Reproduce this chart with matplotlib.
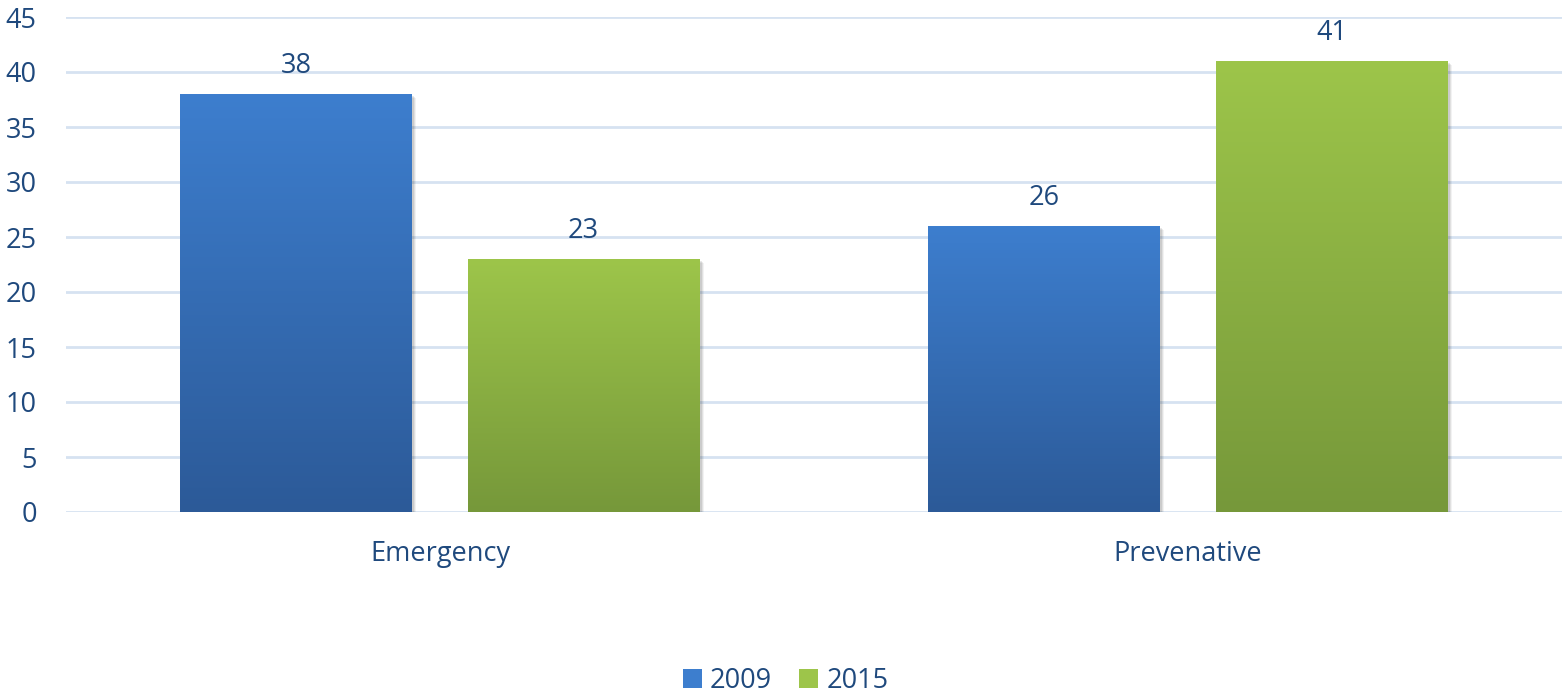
import numpy as np
import matplotlib
matplotlib.use("Agg")
import matplotlib.pyplot as plt
import matplotlib.transforms as mtransforms
from matplotlib.colors import LinearSegmentedColormap
from matplotlib.patches import Rectangle

# ── Data ────────────────────────────────────────────────────────
categories = ["Emergency", "Prevenative"]
series_names = ["2009", "2015"]
values_2009 = [38, 26]
values_2015 = [23, 41]

# ── Style ───────────────────────────────────────────────────────
text_color = "#1F497D"
grid_color = "#D6E2F1"
grads = {
    "2009": ("#2C5A98", "#3D7ECE"),   # bottom, top
    "2015": ("#76983A", "#9DC54A"),
}
fs = 19.5

plt.rcParams["font.family"] = ["Open Sans", "DejaVu Sans"]

fig = plt.figure(figsize=(15.62, 6.98), dpi=100)
ax = fig.add_axes([66 / 1562, (698 - 512) / 698, (1562 - 66) / 1562, 495 / 698])

ax.set_yticks(np.arange(0, 46, 5))
ax.set_xticks(range(len(categories)))
ax.set_xticklabels(categories)
ax.tick_params(axis="both", length=0, colors=text_color, labelsize=fs)
ax.tick_params(axis="y", pad=21)
ax.tick_params(axis="x", pad=20)
for s in ax.spines.values():
    s.set_visible(False)
ax.grid(axis="y", color=grid_color, linewidth=2)
ax.set_axisbelow(True)

bar_w = 0.31
offsets = [-0.192, 0.192]
grad = np.linspace(0, 1, 256).reshape(-1, 1)

for k, (name, vals) in enumerate(zip(series_names, [values_2009, values_2015])):
    cmap = LinearSegmentedColormap.from_list(name, grads[name])
    for i, v in enumerate(vals):
        x0 = i + offsets[k] - bar_w / 2
        # soft shadow
        for d, a in [(4, 0.05), (3, 0.07), (2, 0.09)]:
            sh = Rectangle((x0, 0), bar_w, v, facecolor="#000000", alpha=a,
                           edgecolor="none", zorder=2,
                           transform=ax.transData + mtransforms.ScaledTranslation(
                               d / 100, -d / 100, fig.dpi_scale_trans))
            ax.add_patch(sh)
        ax.imshow(grad, cmap=cmap, origin="lower", aspect="auto",
                  extent=(x0, x0 + bar_w, 0, v), zorder=3)
        ax.text(i + offsets[k], v + 1.25, f"{v}", ha="center", va="bottom",
                color=text_color, fontsize=fs, zorder=4)

ax.set_xlim(-0.5, 1.5)
ax.set_ylim(0, 45)

# legend
handles = [Rectangle((0, 0), 1, 1, facecolor=grads[n][1], edgecolor="none")
           for n in series_names]
fig.legend(handles, series_names, loc="lower center", bbox_to_anchor=(0.503, -0.03),
           ncol=2, frameon=False, fontsize=fs, labelcolor=text_color,
           handlelength=0.7, handleheight=0.7, handletextpad=0.3, columnspacing=1.0)

fig.savefig("out.png", dpi=100)
